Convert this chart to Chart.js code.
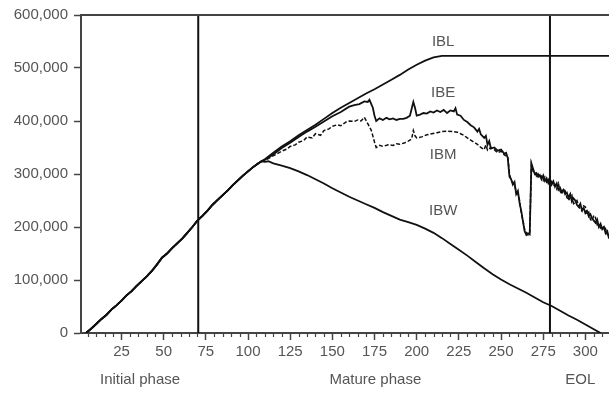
<!DOCTYPE html>
<html>
<head>
<meta charset="utf-8">
<script src="https://cdn.jsdelivr.net/npm/chart.js@4.4.0/dist/chart.umd.min.js"></script>
<style>
  html, body { margin: 0; padding: 0; background: #fff; }
</style>
</head>
<body>
<canvas id="grafico" width="609" height="394"></canvas>
<script>
// —— dados lidos da figura ——
// trecho inicial comum às quatro curvas
const earlyX = [4, 7, 10, 13, 16, 19, 22, 25, 28, 31, 34, 37, 40, 43, 46, 49, 52, 55, 58, 61, 64, 67, 70, 73, 76, 79, 82, 85, 88, 91, 94, 97, 100, 103, 106, 108];
const earlyY = [0, 8000, 17000, 26000, 34000, 44000, 52000, 61000, 71000, 79000, 89000, 98000, 107000, 117000, 129000, 142000, 150000, 160000, 169000, 178000, 189000, 200000, 212000, 221000, 231000, 242000, 251000, 260000, 269000, 279000, 288000, 297000, 305000, 313000, 320000, 324000];

const iblX = [110, 115, 120, 125, 130, 135, 140, 145, 150, 155, 160, 165, 170, 175, 180, 185, 190, 195, 200, 205, 210, 215, 220, 315];
const iblY = [328000, 340000, 352000, 362000, 373000, 383000, 393000, 404000, 415000, 425000, 434000, 443000, 452000, 460000, 469000, 478000, 487000, 497000, 506000, 514000, 520000, 523000, 523000, 523000];

const ibeX = [110, 115, 120, 125, 130, 135, 140, 145, 150, 155, 160, 163, 166, 169, 171, 172, 174, 175, 176, 178, 180, 182, 184, 186, 188, 190, 192, 194, 196, 198, 199, 200, 202, 204, 206, 208, 210, 212, 214, 216, 218, 220, 222, 223, 224, 226, 228, 230, 232, 234, 236, 237, 238, 240, 241, 242, 243, 244, 246, 248, 250, 252, 253, 254, 255, 256, 257, 258, 259, 260, 261, 262, 263, 264, 265, 266, 267, 268, 269, 270, 271, 272, 273, 274, 275, 276, 277, 278, 279, 280, 281, 282, 283, 284, 285, 286, 287, 288, 289, 290, 291, 292, 293, 294, 295, 296, 297, 298, 299, 300, 301, 302, 303, 304, 305, 306, 307, 308, 309, 310, 311, 312, 313, 314];
const ibeY = [327000, 337000, 349000, 359000, 370000, 380000, 389000, 399000, 409000, 417000, 427000, 430000, 432000, 437000, 436000, 440000, 425000, 410000, 400000, 405000, 402000, 406000, 403000, 405000, 402000, 404000, 404000, 406000, 410000, 436000, 425000, 410000, 412000, 415000, 414000, 418000, 416000, 420000, 417000, 421000, 415000, 420000, 418000, 424000, 412000, 410000, 402000, 398000, 392000, 388000, 380000, 385000, 375000, 368000, 372000, 355000, 362000, 348000, 350000, 344000, 346000, 338000, 340000, 330000, 295000, 290000, 280000, 285000, 262000, 268000, 245000, 230000, 210000, 192000, 185000, 188000, 186000, 320000, 310000, 300000, 302000, 295000, 298000, 290000, 297000, 287000, 292000, 283000, 290000, 280000, 286000, 276000, 282000, 270000, 274000, 266000, 270000, 262000, 265000, 255000, 262000, 248000, 254000, 250000, 242000, 238000, 244000, 232000, 236000, 226000, 230000, 220000, 224000, 216000, 212000, 208000, 214000, 200000, 206000, 196000, 200000, 188000, 192000, 178000];

const ibmX = [110, 113, 116, 120, 123, 125, 128, 130, 133, 135, 138, 140, 143, 145, 148, 150, 153, 155, 158, 160, 163, 165, 167, 169, 171, 173, 174, 175, 176, 178, 180, 183, 186, 188, 190, 193, 195, 197, 198, 199, 200, 203, 206, 209, 212, 215, 218, 221, 224, 226, 228, 230, 232, 234, 236, 238, 240, 241, 242, 244, 246, 248, 250, 252, 254, 255, 256, 257, 258, 259, 260, 261, 262, 263, 264, 265, 266, 267, 268, 269, 270, 271, 272, 273, 274, 275, 276, 277, 278, 279, 280, 281, 282, 283, 284, 285, 286, 287, 288, 289, 290, 291, 292, 293, 294, 295, 296, 297, 298, 299, 300, 301, 302, 303, 304, 305, 306, 307, 308, 309, 310, 311, 312, 313, 314];
const ibmY = [325000, 331000, 336000, 343000, 347000, 352000, 355000, 360000, 363000, 370000, 368000, 376000, 373000, 382000, 385000, 390000, 393000, 391000, 398000, 400000, 399000, 402000, 400000, 407000, 395000, 383000, 372000, 360000, 350000, 354000, 352000, 355000, 354000, 357000, 356000, 359000, 362000, 366000, 382000, 372000, 368000, 370000, 374000, 376000, 378000, 380000, 381000, 380000, 379000, 376000, 373000, 368000, 364000, 360000, 356000, 350000, 346000, 355000, 345000, 350000, 346000, 340000, 343000, 336000, 332000, 300000, 288000, 284000, 280000, 265000, 262000, 250000, 226000, 212000, 195000, 190000, 185000, 190000, 318000, 305000, 303000, 296000, 300000, 292000, 296000, 288000, 294000, 285000, 290000, 282000, 286000, 278000, 280000, 272000, 282000, 268000, 262000, 272000, 268000, 256000, 250000, 256000, 260000, 244000, 246000, 250000, 240000, 234000, 230000, 240000, 238000, 224000, 228000, 214000, 212000, 222000, 218000, 204000, 206000, 198000, 194000, 202000, 196000, 186000, 184000];

const ibwX = [110, 112, 115, 120, 125, 130, 135, 140, 145, 150, 155, 160, 165, 170, 175, 180, 185, 190, 195, 200, 205, 210, 215, 220, 225, 230, 235, 240, 245, 250, 255, 260, 265, 270, 275, 280, 285, 290, 295, 300, 305, 309];
const ibwY = [323000, 324000, 320000, 316000, 311000, 305000, 298000, 290000, 282000, 273000, 265000, 257000, 250000, 243000, 236000, 228000, 221000, 214000, 209000, 204000, 197000, 189000, 179000, 168000, 157000, 146000, 134000, 122000, 111000, 101000, 92000, 84000, 76000, 67000, 58000, 51000, 42000, 33000, 25000, 16000, 7000, 0];

// marcos das fases (dias)
const phaseBounds = [70.5, 279];
const phaseNames = ['Initial phase', 'Mature phase', 'EOL'];
const phaseCenters = [36, 175.5, 297];

// rótulos das curvas
const curveNames = ['IBL', 'IBE', 'IBM', 'IBW'];
const curveLabelX = [215.7, 215.7, 215.7, 215.7];
const curveLabelY = [549000, 453000, 336000, 230000];

const xTicks = [25, 50, 75, 100, 125, 150, 175, 200, 225, 250, 275, 300];

const FONTE = '"Liberation Sans", Arial, sans-serif';
const CINZA = '#555';

function pontos(xs, ys) {
  return xs.map((x, i) => ({ x: x, y: ys[i] }));
}
function serie(xs, ys) {
  return pontos(earlyX, earlyY).concat(pontos(xs, ys));
}

const linhasFase = phaseBounds.map(d => ({
  data: [{ x: d, y: 0 }, { x: d, y: 600000 }],
  borderColor: '#111',
  borderWidth: 2,
  pointRadius: 0
}));

// Plugin para marcas menores, borda superior e textos
const extras = {
  id: 'extras',
  afterDraw(chart) {
    const { ctx, chartArea, scales } = chart;
    const xs = scales.x, ys = scales.y;
    ctx.save();

    // borda superior
    ctx.strokeStyle = '#444';
    ctx.lineWidth = 2;
    ctx.beginPath();
    ctx.moveTo(chartArea.left - 1, chartArea.top);
    ctx.lineTo(chartArea.right, chartArea.top);
    ctx.stroke();

    // marcas menores a cada 5
    ctx.lineWidth = 1.2;
    for (let v = 5; v <= 310; v += 5) {
      if (v % 25 === 0) continue;
      const px = Math.round(xs.getPixelForValue(v)) + 0.5;
      ctx.beginPath();
      ctx.moveTo(px, chartArea.bottom);
      ctx.lineTo(px, chartArea.bottom + 4);
      ctx.stroke();
    }

    ctx.fillStyle = CINZA;
    ctx.font = '15px ' + FONTE;
    ctx.textAlign = 'center';
    ctx.textBaseline = 'middle';

    curveNames.forEach((nome, i) => {
      ctx.fillText(nome, xs.getPixelForValue(curveLabelX[i]), ys.getPixelForValue(curveLabelY[i]));
    });

    phaseNames.forEach((nome, i) => {
      ctx.fillText(nome, xs.getPixelForValue(phaseCenters[i]), 380);
    });

    ctx.restore();
  }
};

const ctx = document.getElementById('grafico').getContext('2d');
new Chart(ctx, {
  type: 'line',
  data: {
    datasets: [
      { label: 'IBL', data: serie(iblX, iblY), borderColor: '#111', borderWidth: 1.8, pointRadius: 0 },
      { label: 'IBE', data: serie(ibeX, ibeY), borderColor: '#111', borderWidth: 1.8, pointRadius: 0 },
      { label: 'IBM', data: serie(ibmX, ibmY), borderColor: '#111', borderWidth: 1.5, borderDash: [4, 2], pointRadius: 0 },
      { label: 'IBW', data: serie(ibwX, ibwY), borderColor: '#111', borderWidth: 1.8, pointRadius: 0 },
      ...linhasFase
    ]
  },
  options: {
    responsive: false,
    animation: false,
    devicePixelRatio: 1,
    layout: { padding: { top: 15, right: 0, left: 0, bottom: 0 } },
    plugins: {
      legend: { display: false },
      tooltip: { enabled: false }
    },
    elements: { line: { tension: 0 } },
    scales: {
      x: {
        type: 'linear',
        min: 1,
        max: 314,
        afterBuildTicks: s => { s.ticks = xTicks.map(v => ({ value: v })); },
        afterFit: s => { s.height = 61; },
        grid: { drawOnChartArea: false, tickLength: 7, tickColor: '#444', tickWidth: 1.5 },
        border: { color: '#444', width: 2 },
        ticks: { color: CINZA, font: { family: FONTE, size: 15 }, padding: 3, maxRotation: 0, autoSkip: false }
      },
      y: {
        min: 0,
        max: 600000,
        afterFit: s => { s.width = 81; },
        grid: { drawOnChartArea: false, tickLength: 7, tickColor: '#444', tickWidth: 1.5 },
        border: { color: '#444', width: 2 },
        ticks: {
          stepSize: 100000,
          color: CINZA,
          font: { family: FONTE, size: 15 },
          padding: 6,
          callback: v => v.toLocaleString('en-US')
        }
      }
    }
  },
  plugins: [extras]
});
</script>
</body>
</html>
